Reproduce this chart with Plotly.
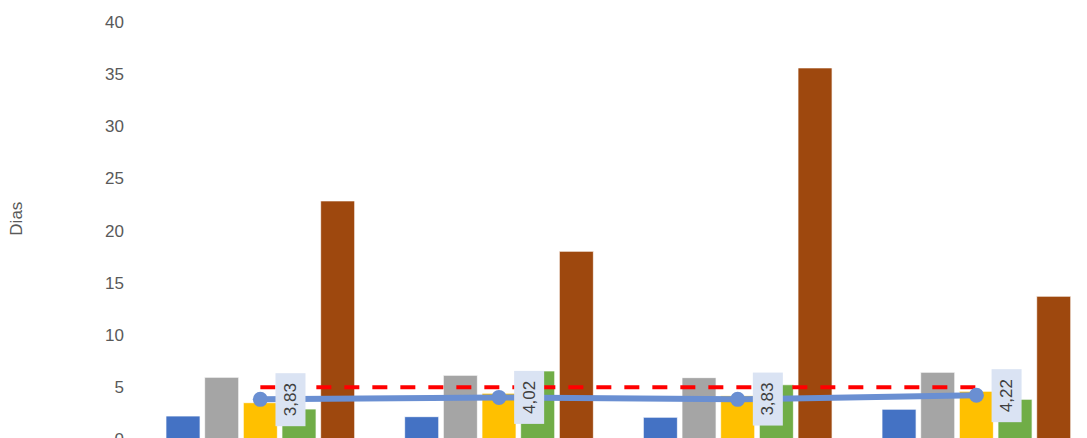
import plotly.graph_objects as go

categories = ["Grupo 1", "Grupo 2", "Grupo 3", "Grupo 4"]
series_names = ["Série A", "Série B", "Série C", "Série D", "Série E"]
series_values = [
    [2.23, 2.17, 2.11, 2.88],
    [5.94, 6.13, 5.91, 6.42],
    [3.51, 4.41, 4.18, 4.60],
    [2.90, 6.55, 5.23, 3.83],
    [22.85, 18.02, 35.60, 13.71],
]
series_colors = ["#4472C4", "#A5A5A5", "#FFC000", "#70AD47", "#9E480E"]
media_values = [3.83, 4.02, 3.83, 4.22]
media_labels = ["3,83", "4,02", "3,83", "4,22"]
meta_values = [5, 5, 5, 5]
y_ticks = [0, 5, 10, 15, 20, 25, 30, 35, 40]

FONT = "Liberation Sans, Arial, sans-serif"

fig = go.Figure()
for name, vals, col in zip(series_names, series_values, series_colors):
    fig.add_trace(go.Bar(x=categories, y=vals, name=name,
                         marker=dict(color=col, line=dict(color="rgba(255,255,255,0.7)", width=1))))

fig.add_trace(go.Scatter(x=categories, y=meta_values, mode="lines", name="Meta",
                         line=dict(color="#FF0000", width=4, dash="15px,13px")))
fig.add_trace(go.Scatter(x=categories, y=media_values, mode="lines+markers", name="Média",
                         line=dict(color="#6A8FD2", width=6),
                         marker=dict(color="#6A8FD2", size=15)))

for c, v, t in zip(categories, media_values, media_labels):
    fig.add_annotation(x=c, y=v, xref="x", yref="y", text=t, showarrow=False,
                       textangle=-90, xshift=30, bgcolor="#DAE3F3", borderpad=5,
                       width=42, font=dict(family=FONT, size=17, color="#404040"))

fig.add_annotation(x=-0.1305, y=0.535, xref="paper", yref="paper", text="Dias", showarrow=False,
                   textangle=-90, xanchor="center", yanchor="middle",
                   font=dict(family=FONT, size=17, color="#595959"))

fig.update_layout(
    width=1087, height=438,
    margin=dict(l=133, r=0, t=14, b=0, autoexpand=False),
    paper_bgcolor="white", plot_bgcolor="white",
    barmode="group", bargap=0.19, bargroupgap=0.12,
    showlegend=False,
    font=dict(family=FONT, color="#595959"),
)
fig.update_xaxes(range=[-0.5, 3.497], showticklabels=False, showgrid=False,
                 zeroline=False, showline=False, automargin=False)
fig.update_yaxes(range=[-0.64, 40], tickvals=y_ticks, showgrid=False, zeroline=False,
                 showline=False, ticklabelstandoff=16, ticklabeloverflow="allow",
                 automargin=False,
                 tickfont=dict(family=FONT, size=17, color="#595959"))

fig.write_html("out.html")
